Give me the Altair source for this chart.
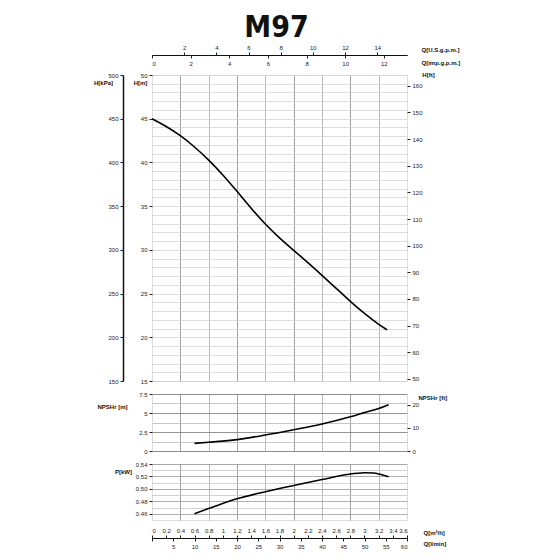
import altair as alt
import pandas as pd

# ---- data ----
Q_H = [0.0, 0.2, 0.4, 0.6, 0.8, 1.0, 1.2, 1.4, 1.6, 1.8, 2.0, 2.2, 2.4, 2.6, 2.8, 3.0, 3.2, 3.32]
H_M = [45.0, 44.15, 43.1, 41.8, 40.3, 38.6, 36.7, 34.75, 32.9, 31.35, 29.95, 28.55, 27.1, 25.6, 24.1, 22.7, 21.45, 20.85]

Q_NPSH = [0.6, 0.8, 1.0, 1.2, 1.6, 2.0, 2.4, 2.8, 3.0, 3.2, 3.34]
NPSH_M = [1.0, 1.15, 1.3, 1.5, 2.1, 2.8, 3.55, 4.5, 5.05, 5.6, 6.1]

Q_P = [0.6, 0.9, 1.2, 1.6, 2.0, 2.4, 2.75, 3.0, 3.13, 3.22, 3.34]
P_KW = [0.46, 0.4725, 0.484, 0.4955, 0.5055, 0.515, 0.523, 0.526, 0.5256, 0.5235, 0.5195]

M3H_TICKS = [0, 0.2, 0.4, 0.6, 0.8, 1, 1.2, 1.4, 1.6, 1.8, 2, 2.2, 2.4, 2.6, 2.8, 3, 3.2, 3.4, 3.6]
Q_GRID = [0.4, 0.8, 1.2, 1.6, 2.0, 2.4, 2.8, 3.2]
LMIN_TICKS = [0, 5, 10, 15, 20, 25, 30, 35, 40, 45, 50, 55, 60]
USGPM_TICKS = [2, 4, 6, 8, 10, 12, 14]
IMPGPM_TICKS = [0, 2, 4, 6, 8, 10, 12]
HM_TICKS = list(range(15, 51))
KPA_TICKS = [150, 200, 250, 300, 350, 400, 450, 500]
FT_TICKS = [50, 60, 70, 80, 90, 100, 110, 120, 130, 140, 150, 160]
NPSH_TICKS = [0, 1.25, 2.5, 3.75, 5, 6.25, 7.5]
NPSHFT_TICKS = [0, 10, 20]
P_TICKS = [0.46, 0.47, 0.48, 0.49, 0.50, 0.51, 0.52, 0.53, 0.54]

QMAX = 3.6
W = 255
H_MAIN, H_NPSH, H_P = 306, 57, 56

df_h = pd.DataFrame({"Q": Q_H, "H": H_M})
df_n = pd.DataFrame({"Q": Q_NPSH, "N": NPSH_M})
df_p = pd.DataFrame({"Q": Q_P, "P": P_KW})

FONT = "Liberation Sans"
LBL = dict(labelFont=FONT, labelFontSize=6, labelColor="#222", titleFont=FONT,
           titleFontSize=6, titleFontWeight="bold", titleColor="#111", titleAngle=0,
           titleBaseline="middle", tickColor="#222", domainColor="#111", labelOverlap=False)

q_scale = alt.Scale(domain=[0, QMAX], nice=False, zero=False)
grid_color = {"condition": {"test": "round(datum.value*10) % 8 == 4", "value": "#8a8a8a"}, "value": "#a8a8a8"}

def q_grid_axis():
    return alt.Axis(values=Q_GRID, grid=True, labels=False, ticks=False, domain=False,
                    title=None, orient="bottom", gridColor=grid_color, gridWidth=0.8)

# ---------- main H chart ----------
h_scale = alt.Scale(domain=[15, 50], nice=False, zero=False)
curve_h = alt.Chart(df_h).mark_line(color="black", strokeWidth=1.6, interpolate="basis").encode(
    x=alt.X("Q:Q", scale=q_scale, axis=q_grid_axis()),
    y=alt.Y("H:Q", scale=h_scale, axis=alt.Axis(
        values=HM_TICKS, grid=True, gridColor="#cfcfcf", gridWidth=0.7, orient="left",
        labelExpr="datum.value % 5 == 0 ? datum.label : ''",
        tickOpacity={"condition": {"test": "datum.value % 5 == 0", "value": 1}, "value": 0},
        tickSize=3, domain=False, title="H[m]", titleX=-12, titleY=7, titleAlign="center", **LBL)),
)
kpa_layer = alt.Chart(df_h).transform_calculate(kpa="datum.H*10").mark_line(opacity=0).encode(
    x=alt.X("Q:Q", scale=q_scale, axis=None),
    y=alt.Y("kpa:Q", scale=alt.Scale(domain=[150, 500], nice=False, zero=False), axis=alt.Axis(
        values=KPA_TICKS, orient="left", offset=29, grid=False, tickSize=3, domainWidth=1.5,
        title="H[kPa]", titleX=-20, titleY=7, titleAlign="center", **LBL)),
)
ft_layer = alt.Chart(df_h).transform_calculate(ft="datum.H/0.3048").mark_line(opacity=0).encode(
    x=alt.X("Q:Q", scale=q_scale, axis=None),
    y=alt.Y("ft:Q", scale=alt.Scale(domain=[15 / 0.3048, 50 / 0.3048], nice=False, zero=False), axis=alt.Axis(
        values=FT_TICKS, orient="right", grid=False, tickSize=3, domain=False,
        title="H[ft]", titleX=21, titleY=-1, titleAlign="center", **LBL)),
)
us_layer = alt.Chart(df_h).transform_calculate(us="datum.Q*4.4029").mark_line(opacity=0).encode(
    x=alt.X("us:Q", scale=alt.Scale(domain=[0, QMAX * 4.4029], nice=False, zero=False), axis=alt.Axis(
        values=USGPM_TICKS, orient="top", offset=20, grid=False, tickSize=3, domainWidth=1.2,
        title="Q[U.S.g.p.m.]", titleX=269, titleY=-6, titleAlign="left", **LBL)),
    y=alt.Y("H:Q", scale=h_scale, axis=None),
)
imp_layer = alt.Chart(df_h).transform_calculate(imp="datum.Q*3.6662").mark_line(opacity=0).encode(
    x=alt.X("imp:Q", scale=alt.Scale(domain=[0, QMAX * 3.6662], nice=False, zero=False), axis=alt.Axis(
        values=IMPGPM_TICKS, orient="bottom", offset=-(H_MAIN + 20), grid=False, tickSize=3, domainWidth=1.2,
        title="Q[imp.g.p.m.]", titleX=269, titleY=7, titleAlign="left", **LBL)),
    y=alt.Y("H:Q", scale=h_scale, axis=None),
)
main = alt.layer(curve_h, kpa_layer, ft_layer, us_layer, imp_layer).resolve_scale(
    x="independent", y="independent").properties(width=W, height=H_MAIN)

# ---------- NPSH chart ----------
n_scale = alt.Scale(domain=[0, 7.5], nice=False, zero=False)
curve_n = alt.Chart(df_n).mark_line(color="black", strokeWidth=1.6, interpolate="monotone").encode(
    x=alt.X("Q:Q", scale=q_scale, axis=q_grid_axis()),
    y=alt.Y("N:Q", scale=n_scale, axis=alt.Axis(
        values=NPSH_TICKS, grid=True, orient="left",
        gridColor={"condition": {"test": "(datum.value*2) % 5 == 0", "value": "#7a7a7a"}, "value": "#b8b8b8"},
        gridWidth=0.8,
        labelExpr="(datum.value*2) % 5 == 0 ? format(datum.value, '~g') : ''",
        tickOpacity={"condition": {"test": "(datum.value*2) % 5 == 0", "value": 1}, "value": 0},
        tickSize=3, domain=False, title="NPSHr [m]", titleX=-40, titleY=12, titleAlign="center", **LBL)),
)
nft_layer = alt.Chart(df_n).transform_calculate(ft="datum.N/0.3048").mark_line(opacity=0).encode(
    x=alt.X("Q:Q", scale=q_scale, axis=None),
    y=alt.Y("ft:Q", scale=alt.Scale(domain=[0, 7.5 / 0.3048], nice=False, zero=False), axis=alt.Axis(
        values=NPSHFT_TICKS, orient="right", grid=False, tickSize=3, domain=False,
        title="NPSHr [ft]", titleX=11, titleY=3, titleAlign="left", **LBL)),
)
npsh = alt.layer(curve_n, nft_layer).resolve_scale(x="independent", y="independent").properties(
    width=W, height=H_NPSH)

# ---------- Power chart ----------
p_scale = alt.Scale(domain=[0.45, 0.54], nice=False, zero=False)
curve_p = alt.Chart(df_p).mark_line(color="black", strokeWidth=1.6, interpolate="monotone").encode(
    x=alt.X("Q:Q", scale=q_scale, axis=alt.Axis(
        values=M3H_TICKS, orient="top", offset=-(H_P + 18), grid=False, tickSize=3,
        labelExpr="format(datum.value, '.1~f')",
        domainWidth=1.2, title="Q[m³/h]", titleX=271, titleY=-6, titleAlign="left", **LBL)),
    y=alt.Y("P:Q", scale=p_scale, axis=alt.Axis(
        values=P_TICKS, grid=True, orient="left",
        gridColor={"condition": {"test": "round(datum.value*100) % 2 == 0", "value": "#9a9a9a"}, "value": "#c4c4c4"},
        gridWidth=0.8,
        labelExpr="round(datum.value*100) % 2 == 0 ? format(datum.value, '.2f') : ''",
        tickOpacity={"condition": {"test": "round(datum.value*100) % 2 == 0", "value": 1}, "value": 0},
        tickSize=3, domain=False, title="P[kW]", titleX=-29, titleY=7, titleAlign="center", **LBL)),
)
pgrid_layer = alt.Chart(df_p).mark_line(opacity=0).encode(
    x=alt.X("Q:Q", scale=q_scale, axis=q_grid_axis()),
    y=alt.Y("P:Q", scale=p_scale, axis=None),
)
lmin_layer = alt.Chart(df_p).transform_calculate(lmin="datum.Q*1000/60").mark_line(opacity=0).encode(
    x=alt.X("lmin:Q", scale=alt.Scale(domain=[0, QMAX * 1000 / 60], nice=False, zero=False), axis=alt.Axis(
        values=LMIN_TICKS, orient="bottom", offset=18, grid=False, tickSize=3, domainWidth=1.2,
        labelExpr="datum.value == 0 ? '' : datum.label",
        title="Q[l/min]", titleX=271, titleY=5, titleAlign="left", **LBL)),
    y=alt.Y("P:Q", scale=p_scale, axis=None),
)
power = alt.layer(pgrid_layer, curve_p, lmin_layer).resolve_scale(x="independent", y="independent").properties(
    width=W, height=H_P)

chart = alt.vconcat(main, npsh, power, spacing=5).properties(
    title=alt.TitleParams("M97", font="Liberation Sans Narrow, DejaVu Sans Condensed, sans-serif",
                          fontSize=30, fontWeight="bold", anchor="middle", offset=1, color="#111"),
    padding={"left": 84, "top": 4, "right": 5, "bottom": 5},
).configure_view(stroke="black", strokeWidth=1.6).configure(background="white")

chart.save("out.html", embed_options={"renderer": "svg", "actions": False})
